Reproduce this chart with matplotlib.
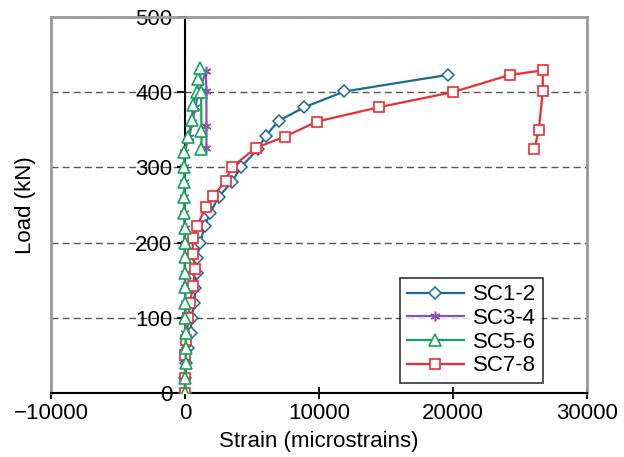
import matplotlib
matplotlib.use('Agg')
import matplotlib.pyplot as plt

plt.rcParams['font.family'] = ['Liberation Sans', 'DejaVu Sans']

# SC1-2 (blue diamonds)
sc12_load = [0, 20, 40, 60, 80, 100, 120, 140, 160, 180, 200, 222, 240, 261, 280, 300, 324, 342, 362, 380, 401, 423]
sc12_strain = [0, 0, 110, 240, 420, 490, 700, 760, 860, 900, 1150, 1460, 1900, 2500, 3480, 4150, 5420, 6020, 7000, 8900, 11900, 19600]

# SC3-4 (purple asterisks)
sc34_load = [0, 20, 40, 60, 80, 100, 120, 140, 160, 180, 200, 220, 240, 260, 280, 300, 320, 340, 360, 380, 400, 428, 401, 355, 326]
sc34_strain = [0, 20, 40, 40, 30, 20, 10, 0, -10, -20, -30, -30, -40, -40, -40, -40, -40, 300, 550, 750, 1050, 1550, 1600, 1600, 1600]

# SC5-6 (green triangles)
sc56_load = [0, 20, 40, 60, 80, 100, 120, 141, 160, 181, 200, 220, 240, 261, 280, 300, 321, 340, 363, 383, 400, 417, 432, 400, 348, 324]
sc56_strain = [0, 30, 60, 50, 40, 30, 20, 10, 0, -10, -20, -30, -40, -40, -40, -50, -60, 240, 490, 610, 860, 990, 1110, 1200, 1230, 1230]

# SC7-8 (red squares)
sc78_load = [0, 20, 50, 70, 100, 120, 142, 165, 185, 206, 222, 248, 262, 282, 300, 326, 341, 361, 380, 400, 423, 429, 401, 350, 324]
sc78_strain = [0, 0, 0, 110, 250, 360, 610, 730, 600, 560, 910, 1560, 2110, 3030, 3480, 5290, 7450, 9870, 14460, 19970, 24250, 26700, 26700, 26400, 26070]

fig = plt.figure(figsize=(6.24, 4.57), dpi=100)
ax = fig.add_axes([51/624, 1 - 393/457, (587 - 51)/624, (393 - 17)/457])

ax.plot(sc12_strain, sc12_load, '-', color='#1c6a9b', lw=1.6, marker='D', ms=6.5,
        mfc='white', mec='#1c6a9b', mew=1.1, label='SC1-2', zorder=3)
ax.plot(sc34_strain, sc34_load, '-', color='#8856b0', lw=1.6, marker=(6, 2, 0), ms=7,
        mec='#8856b0', mew=1.1, label='SC3-4', zorder=3)
ax.plot(sc56_strain, sc56_load, '-', color='#14a35c', lw=1.6, marker='^', ms=8,
        mfc='white', mec='#14a35c', mew=1.2, label='SC5-6', zorder=5)
ax.plot(sc78_strain, sc78_load, '-', color='#ee2d32', lw=1.6, marker='s', ms=7.5,
        mfc='white', mec='#ee2d32', mew=1.2, label='SC7-8', zorder=4)

ax.set_xlim(-10000, 30000)
ax.set_ylim(0, 500)
ax.set_xticks([-10000, 0, 10000, 20000, 30000])
ax.set_xticklabels(['\u221210000', '0', '10000', '20000', '30000'])
ax.set_yticks([0, 100, 200, 300, 400, 500])

# y axis drawn at zero strain, grey frame elsewhere
ax.spines['left'].set_position(('data', 0))
ax.spines['left'].set_color('black')
ax.spines['left'].set_linewidth(1.5)
ax.spines['bottom'].set_color('black')
ax.spines['bottom'].set_linewidth(1.5)
for s in ['top', 'right']:
    ax.spines[s].set_color('#999999')
    ax.spines[s].set_linewidth(2)
ax.axvline(-10000, color='#999999', lw=2, clip_on=False, zorder=1)

ax.grid(axis='y', linestyle=(0, (5, 3)), color='#555555', lw=1)
ax.set_axisbelow(True)

ax.tick_params(axis='both', labelsize=16, width=1.3, colors='black')
ax.tick_params(axis='x', direction='inout', length=8, pad=3)
ax.tick_params(axis='y', direction='out', length=6, pad=3)

ax.set_xlabel('Strain (microstrains)', fontsize=16, labelpad=5)
ax.set_ylabel('Load (kN)', fontsize=16)
ax.yaxis.set_label_coords(-0.028, 0.5)

leg = ax.legend(loc='lower right', bbox_to_anchor=(543/624, 1 - 383/457),
                bbox_transform=fig.transFigure, fontsize=16, frameon=True,
                fancybox=False, edgecolor='black', handlelength=2.6,
                labelspacing=0.12, borderpad=0.3, handletextpad=0.4,
                borderaxespad=0)
leg.get_frame().set_linewidth(1.2)

fig.savefig('out.png', dpi=100)
